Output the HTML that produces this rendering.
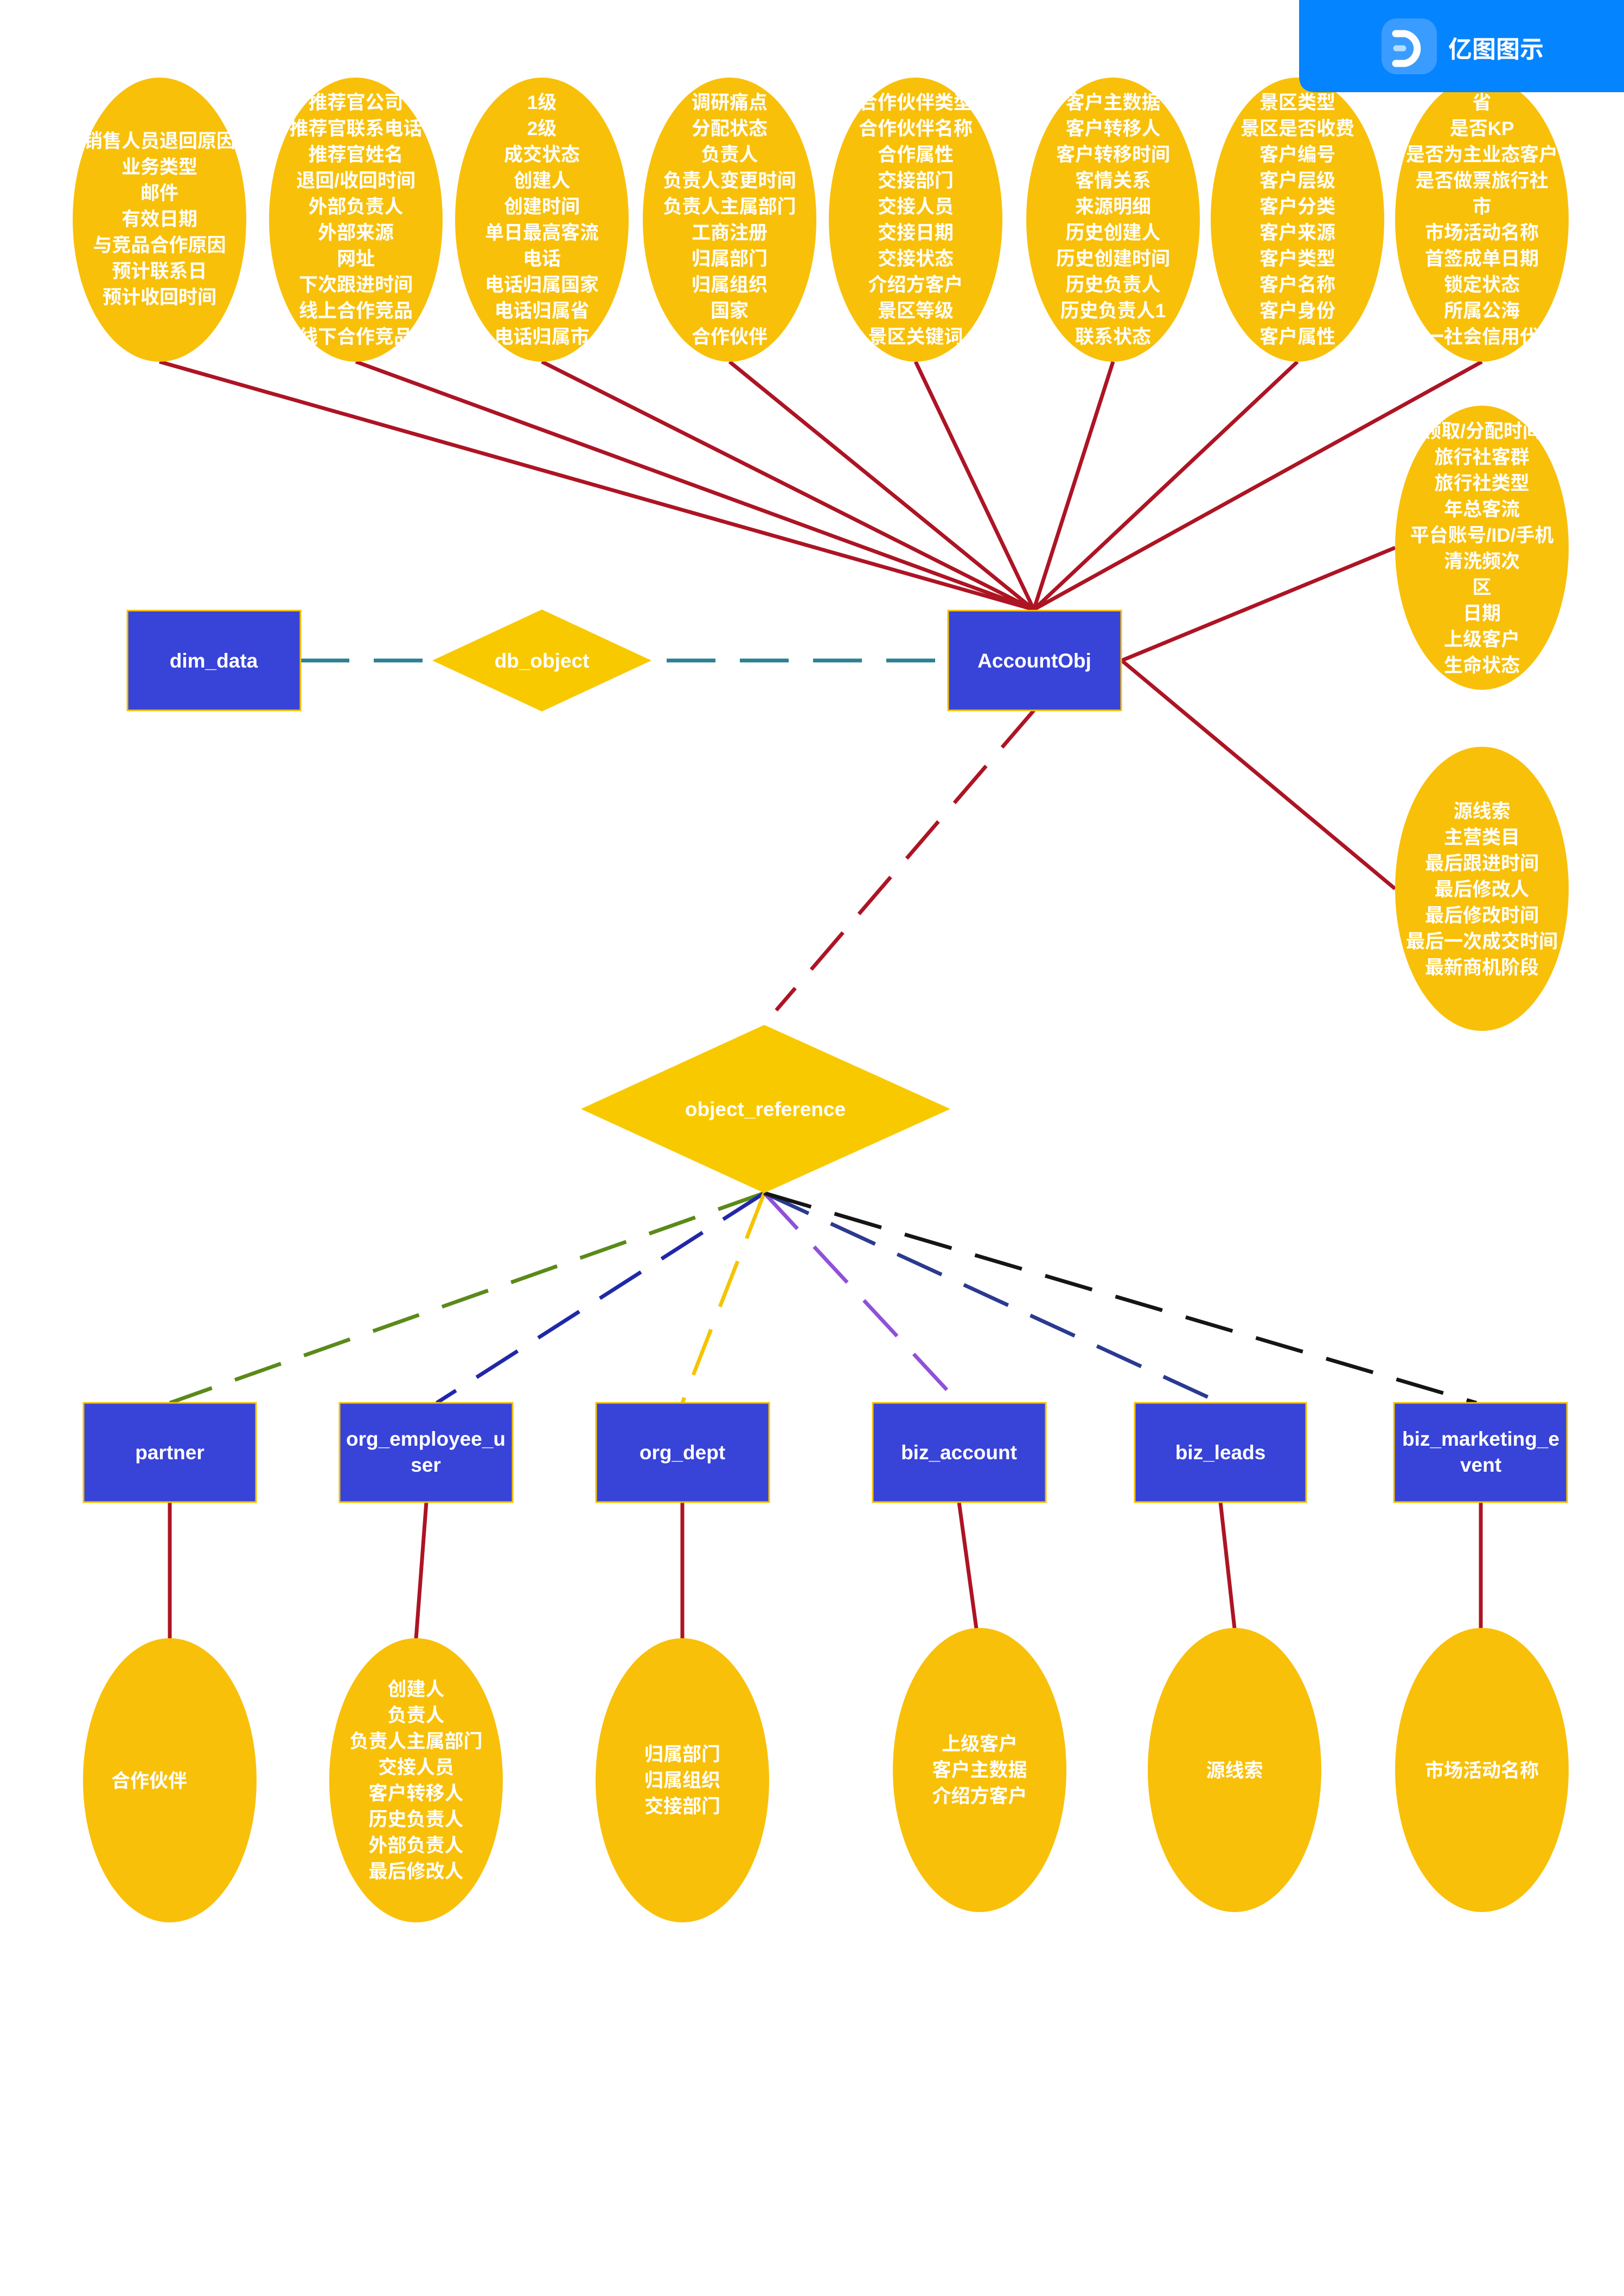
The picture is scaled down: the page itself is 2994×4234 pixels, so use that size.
<!DOCTYPE html>
<html><head><meta charset="utf-8"><style>
html,body{margin:0;padding:0;background:#fff;}
svg{display:block}
.t{font-family:"Liberation Sans","Noto Sans CJK SC",sans-serif;font-weight:bold;fill:#fff;font-size:35px;text-anchor:middle}
.r{font-family:"Liberation Sans","Noto Sans CJK SC",sans-serif;font-weight:bold;fill:#fff;font-size:37px;text-anchor:middle}
</style></head><body>
<svg width="2994" height="4234" viewBox="0 0 2994 4234" xmlns="http://www.w3.org/2000/svg">
<rect width="2994" height="4234" fill="#fff"/>
<!-- solid red lines top -->
<g stroke="#ad1424" stroke-width="7" fill="none">
<line x1="294" y1="667" x2="1906" y2="1124"/>
<line x1="656" y1="667" x2="1906" y2="1124"/>
<line x1="999" y1="667" x2="1906" y2="1124"/>
<line x1="1345" y1="667" x2="1906" y2="1124"/>
<line x1="1688" y1="667" x2="1906" y2="1124"/>
<line x1="2052" y1="667" x2="1906" y2="1124"/>
<line x1="2392" y1="667" x2="1906" y2="1124"/>
<line x1="2732" y1="667" x2="1906" y2="1124"/>
<line x1="2572" y1="1010" x2="2068" y2="1218"/>
<line x1="2572" y1="1639" x2="2068" y2="1218"/>
<line x1="313" y1="2770" x2="313" y2="3022"/>
<line x1="786" y1="2770" x2="767" y2="3022"/>
<line x1="1258" y1="2770" x2="1258" y2="3022"/>
<line x1="1768" y1="2770" x2="1800" y2="3003"/>
<line x1="2250" y1="2770" x2="2276" y2="3003"/>
<line x1="2730" y1="2770" x2="2730" y2="3003"/>
</g>
<line x1="554" y1="1218" x2="1748" y2="1218" stroke="#2a8090" stroke-width="7" stroke-dasharray="90,45"/>
<line x1="1906" y1="1310" x2="1431" y2="1863" stroke="#ad1424" stroke-width="7" stroke-dasharray="90,45"/>
<g stroke-width="7" stroke-dasharray="90,45" fill="none">
<line x1="1409" y1="2200" x2="313" y2="2587" stroke="#5a8a1a"/>
<line x1="1409" y1="2200" x2="805" y2="2587" stroke="#2028a8"/>
<line x1="1409" y1="2200" x2="1258" y2="2587" stroke="#f5c400"/>
<line x1="1409" y1="2200" x2="1768" y2="2587" stroke="#9050d8"/>
<line x1="1409" y1="2200" x2="2250" y2="2587" stroke="#2a3a90"/>
<line x1="1409" y1="2200" x2="2722" y2="2587" stroke="#151515"/>
</g>
<!-- top ellipses -->
<g fill="#f9c00a">
<ellipse cx="294" cy="405" rx="160" ry="262"/>
<ellipse cx="656" cy="405" rx="160" ry="262"/>
<ellipse cx="999" cy="405" rx="160" ry="262"/>
<ellipse cx="1345" cy="405" rx="160" ry="262"/>
<ellipse cx="1688" cy="405" rx="160" ry="262"/>
<ellipse cx="2052" cy="405" rx="160" ry="262"/>
<ellipse cx="2392" cy="405" rx="160" ry="262"/>
<ellipse cx="2732" cy="405" rx="160" ry="262"/>
<ellipse cx="2732" cy="1010" rx="160" ry="262"/>
<ellipse cx="2732" cy="1639" rx="160" ry="262"/>
<ellipse cx="313" cy="3283" rx="160" ry="262"/>
<ellipse cx="767" cy="3283" rx="160" ry="262"/>
<ellipse cx="1258" cy="3283" rx="160" ry="262"/>
<ellipse cx="1806" cy="3264" rx="160" ry="262"/>
<ellipse cx="2276" cy="3264" rx="160" ry="262"/>
<ellipse cx="2732" cy="3264" rx="160" ry="262"/>
</g>
<!-- logo -->
<path d="M2395 0H2994V170H2425Q2395 170 2395 140Z" fill="#0584ff"/>
<rect x="2547" y="34" width="102" height="103" rx="28" fill="#3a9cff"/>
<path d="M2573 62H2590A28 28 0 0 1 2590 117H2573" stroke="#fff" stroke-width="13" stroke-linecap="round" fill="none"/>
<line x1="2574" y1="89" x2="2587" y2="89" stroke="#b6dcff" stroke-width="11" stroke-linecap="round"/>
<text x="2670" y="106" style="font-family:'Liberation Sans','Noto Sans CJK SC',sans-serif;font-size:44px;fill:#fff;font-weight:bold">亿图图示</text>
<!-- rects -->
<g fill="#3843d8" stroke="#f5c000" stroke-width="3">
<rect x="235" y="1126" width="319" height="184"/>
<rect x="1748" y="1126" width="319" height="184"/>
<rect x="154" y="2587" width="318" height="183"/>
<rect x="626" y="2587" width="319" height="183"/>
<rect x="1099" y="2587" width="319" height="183"/>
<rect x="1609" y="2587" width="319" height="183"/>
<rect x="2092" y="2587" width="316" height="183"/>
<rect x="2570" y="2587" width="319" height="183"/>
</g>
<polygon points="797,1218 999,1124 1201,1218 999,1312" fill="#f9c900"/>
<polygon points="1071,2045 1409,1890 1752,2045 1409,2200" fill="#f9c900"/>
<g class="r">
<text x="394" y="1231" class="r">dim_data</text>
<text x="999" y="1231" class="r">db_object</text>
<text x="1907" y="1231" class="r">AccountObj</text>
<text x="1411" y="2058" class="r">object_reference</text>
<text x="313" y="2691" class="r">partner</text>
<text x="785" y="2666" class="r">org_employee_u</text>
<text x="785" y="2714" class="r">ser</text>
<text x="1258" y="2691" class="r">org_dept</text>
<text x="1768" y="2691" class="r">biz_account</text>
<text x="2250" y="2691" class="r">biz_leads</text>
<text x="2730" y="2666" class="r">biz_marketing_e</text>
<text x="2730" y="2714" class="r">vent</text>
</g>
<g class="t">
<text x="294" y="272" class="t"><tspan x="294" dy="0">销售人员退回原因</tspan><tspan x="294" dy="48">业务类型</tspan><tspan x="294" dy="48">邮件</tspan><tspan x="294" dy="48">有效日期</tspan><tspan x="294" dy="48">与竞品合作原因</tspan><tspan x="294" dy="48">预计联系日</tspan><tspan x="294" dy="48">预计收回时间</tspan></text>
<text x="656" y="201" class="t"><tspan x="656" dy="0">推荐官公司</tspan><tspan x="656" dy="48">推荐官联系电话</tspan><tspan x="656" dy="48">推荐官姓名</tspan><tspan x="656" dy="48">退回/收回时间</tspan><tspan x="656" dy="48">外部负责人</tspan><tspan x="656" dy="48">外部来源</tspan><tspan x="656" dy="48">网址</tspan><tspan x="656" dy="48">下次跟进时间</tspan><tspan x="656" dy="48">线上合作竞品</tspan><tspan x="656" dy="48">线下合作竞品</tspan></text>
<text x="999" y="201" class="t"><tspan x="999" dy="0">1级</tspan><tspan x="999" dy="48">2级</tspan><tspan x="999" dy="48">成交状态</tspan><tspan x="999" dy="48">创建人</tspan><tspan x="999" dy="48">创建时间</tspan><tspan x="999" dy="48">单日最高客流</tspan><tspan x="999" dy="48">电话</tspan><tspan x="999" dy="48">电话归属国家</tspan><tspan x="999" dy="48">电话归属省</tspan><tspan x="999" dy="48">电话归属市</tspan></text>
<text x="1345" y="201" class="t"><tspan x="1345" dy="0">调研痛点</tspan><tspan x="1345" dy="48">分配状态</tspan><tspan x="1345" dy="48">负责人</tspan><tspan x="1345" dy="48">负责人变更时间</tspan><tspan x="1345" dy="48">负责人主属部门</tspan><tspan x="1345" dy="48">工商注册</tspan><tspan x="1345" dy="48">归属部门</tspan><tspan x="1345" dy="48">归属组织</tspan><tspan x="1345" dy="48">国家</tspan><tspan x="1345" dy="48">合作伙伴</tspan></text>
<text x="1688" y="201" class="t"><tspan x="1688" dy="0">合作伙伴类型</tspan><tspan x="1688" dy="48">合作伙伴名称</tspan><tspan x="1688" dy="48">合作属性</tspan><tspan x="1688" dy="48">交接部门</tspan><tspan x="1688" dy="48">交接人员</tspan><tspan x="1688" dy="48">交接日期</tspan><tspan x="1688" dy="48">交接状态</tspan><tspan x="1688" dy="48">介绍方客户</tspan><tspan x="1688" dy="48">景区等级</tspan><tspan x="1688" dy="48">景区关键词</tspan></text>
<text x="2052" y="201" class="t"><tspan x="2052" dy="0">客户主数据</tspan><tspan x="2052" dy="48">客户转移人</tspan><tspan x="2052" dy="48">客户转移时间</tspan><tspan x="2052" dy="48">客情关系</tspan><tspan x="2052" dy="48">来源明细</tspan><tspan x="2052" dy="48">历史创建人</tspan><tspan x="2052" dy="48">历史创建时间</tspan><tspan x="2052" dy="48">历史负责人</tspan><tspan x="2052" dy="48">历史负责人1</tspan><tspan x="2052" dy="48">联系状态</tspan></text>
<text x="2392" y="201" class="t"><tspan x="2392" dy="0">景区类型</tspan><tspan x="2392" dy="48">景区是否收费</tspan><tspan x="2392" dy="48">客户编号</tspan><tspan x="2392" dy="48">客户层级</tspan><tspan x="2392" dy="48">客户分类</tspan><tspan x="2392" dy="48">客户来源</tspan><tspan x="2392" dy="48">客户类型</tspan><tspan x="2392" dy="48">客户名称</tspan><tspan x="2392" dy="48">客户身份</tspan><tspan x="2392" dy="48">客户属性</tspan></text>
<text x="2732" y="201" class="t"><tspan x="2732" dy="0">省</tspan><tspan x="2732" dy="48">是否KP</tspan><tspan x="2732" dy="48">是否为主业态客户</tspan><tspan x="2732" dy="48">是否做票旅行社</tspan><tspan x="2732" dy="48">市</tspan><tspan x="2732" dy="48">市场活动名称</tspan><tspan x="2732" dy="48">首签成单日期</tspan><tspan x="2732" dy="48">锁定状态</tspan><tspan x="2732" dy="48">所属公海</tspan><tspan x="2732" dy="48">统一社会信用代码</tspan></text>
<text x="2732" y="807" class="t"><tspan x="2732" dy="0">领取/分配时间</tspan><tspan x="2732" dy="48">旅行社客群</tspan><tspan x="2732" dy="48">旅行社类型</tspan><tspan x="2732" dy="48">年总客流</tspan><tspan x="2732" dy="48">平台账号/ID/手机</tspan><tspan x="2732" dy="48">清洗频次</tspan><tspan x="2732" dy="48">区</tspan><tspan x="2732" dy="48">日期</tspan><tspan x="2732" dy="48">上级客户</tspan><tspan x="2732" dy="48">生命状态</tspan></text>
<text x="2732" y="1508" class="t"><tspan x="2732" dy="0">源线索</tspan><tspan x="2732" dy="48">主营类目</tspan><tspan x="2732" dy="48">最后跟进时间</tspan><tspan x="2732" dy="48">最后修改人</tspan><tspan x="2732" dy="48">最后修改时间</tspan><tspan x="2732" dy="48">最后一次成交时间</tspan><tspan x="2732" dy="48">最新商机阶段</tspan></text>
<text x="275" y="3296" class="t">合作伙伴</text>
<text x="767" y="3127" class="t"><tspan x="767" dy="0">创建人</tspan><tspan x="767" dy="48">负责人</tspan><tspan x="767" dy="48">负责人主属部门</tspan><tspan x="767" dy="48">交接人员</tspan><tspan x="767" dy="48">客户转移人</tspan><tspan x="767" dy="48">历史负责人</tspan><tspan x="767" dy="48">外部负责人</tspan><tspan x="767" dy="48">最后修改人</tspan></text>
<text x="1258" y="3247" class="t"><tspan x="1258" dy="0">归属部门</tspan><tspan x="1258" dy="48">归属组织</tspan><tspan x="1258" dy="48">交接部门</tspan></text>
<text x="1806" y="3228" class="t"><tspan x="1806" dy="0">上级客户</tspan><tspan x="1806" dy="48">客户主数据</tspan><tspan x="1806" dy="48">介绍方客户</tspan></text>
<text x="2276" y="3277" class="t">源线索</text>
<text x="2732" y="3277" class="t">市场活动名称</text>
</g>
</svg>
</body></html>
